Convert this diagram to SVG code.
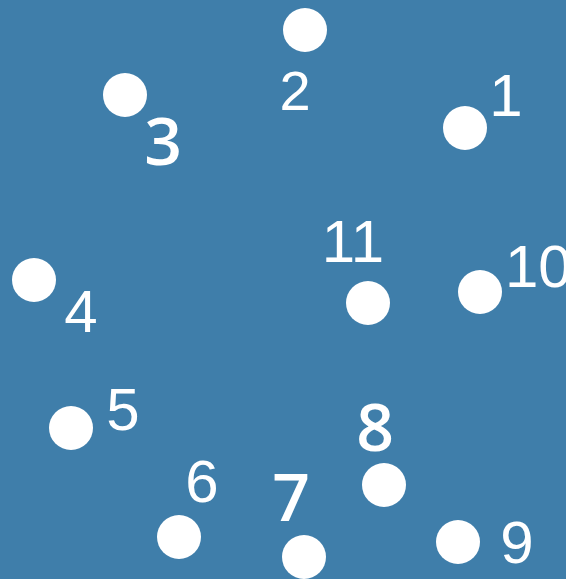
<svg xmlns="http://www.w3.org/2000/svg" width="566" height="579" viewBox="0 0 566 579">
<style>
.n{fill:#ffffff}
.t{fill:#ffffff;font-family:"Liberation Sans",Arial,sans-serif;font-size:60px;text-anchor:middle}
.b{fill:#ffffff;font-family:"Open Sans",sans-serif;font-size:66px;font-weight:600;text-anchor:middle}
</style>
<rect x="0" y="0" width="566" height="579" fill="#3f7eaa"/>
<g id="connectors"></g>
<g id="node1"><circle class="n" cx="465" cy="128" r="22"/><text class="t" x="506" y="116">1</text></g>
<g id="node2"><circle class="n" cx="305" cy="30" r="22"/><text class="t" x="295" y="110" style="font-size:56px">2</text></g>
<g id="node3"><circle class="n" cx="125" cy="95" r="22"/><text class="b" x="163" y="165">3</text></g>
<g id="node4"><circle class="n" cx="34" cy="280" r="22"/><text class="t" x="81" y="332">4</text></g>
<g id="node5"><circle class="n" cx="71" cy="428" r="22"/><text class="t" x="123" y="430">5</text></g>
<g id="node6"><circle class="n" cx="179" cy="537" r="22"/><text class="t" x="202" y="502">6</text></g>
<g id="node7"><circle class="n" cx="304" cy="557" r="22"/><text class="b" x="291" y="521">7</text></g>
<g id="node8"><circle class="n" cx="384" cy="485" r="22"/><text class="b" x="375" y="451">8</text></g>
<g id="node9"><circle class="n" cx="458" cy="542" r="22"/><text class="t" x="517" y="563">9</text></g>
<g id="node10"><circle class="n" cx="480" cy="292" r="22"/><text class="t" x="505" y="287" style="text-anchor:start">10</text></g>
<g id="node11"><circle class="n" cx="368" cy="303" r="22"/><text class="t" x="353" y="262">11</text></g>
</svg>
